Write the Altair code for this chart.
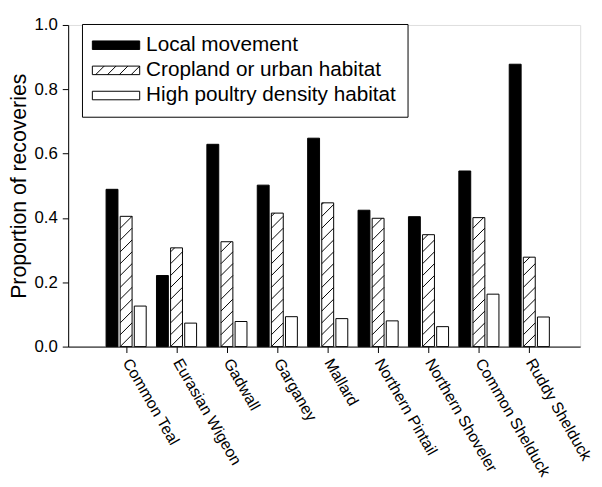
import json
import altair as alt
import pandas as pd

# ---- data ----
species = ["Common Teal", "Eurasian Wigeon", "Gadwall", "Garganey", "Mallard",
           "Northern Pintail", "Northern Shoveler", "Common Shelduck", "Ruddy Shelduck"]
series = ["Local movement", "Cropland or urban habitat", "High poultry density habitat"]
local_movement = [0.489, 0.221, 0.629, 0.502, 0.648, 0.424, 0.404, 0.546, 0.878]
cropland_urban = [0.405, 0.307, 0.326, 0.415, 0.447, 0.399, 0.348, 0.401, 0.278]
high_poultry = [0.126, 0.073, 0.078, 0.093, 0.087, 0.080, 0.062, 0.163, 0.092]
y_ticks = [0.0, 0.2, 0.4, 0.6, 0.8, 1.0]

# ---- layout / style ----
FONT = "Liberation Sans"
W, H = 519, 326
X_DOMAIN = [-1.15, 9.01]
BAR_OFFSET = 0.28      # group offset of each series (in category units)
BAR_HALF = 0.118       # half bar width (in category units)
HATCH_STEP = 12        # px between hatch lines

values_by_series = [local_movement, cropland_urban, high_poultry]
rows = []
for si, (s, vals) in enumerate(zip(series, values_by_series)):
    for i, v in enumerate(vals):
        xc = i + (si - 1) * BAR_OFFSET
        rows.append({"species": species[i], "series": s, "idx": i, "xc": xc,
                     "x0": xc - BAR_HALF, "x1": xc + BAR_HALF, "value": v})
bars_df = pd.DataFrame(rows)

# hatch lines for the cropland/urban bars, derived from the bar values
px_x = W / (X_DOMAIN[1] - X_DOMAIN[0])
px_y = H / 1.0
hatch = []
for r in rows:
    if r["series"] != series[1]:
        continue
    w = (r["x1"] - r["x0"]) * px_x
    h = r["value"] * px_y
    k = -int(w // HATCH_STEP) - 1
    while k * HATCH_STEP < h:
        c = k * HATCH_STEP
        xa = max(0.0, -c)
        xb = min(w, h - c)
        if xb - xa > 0.6:
            hatch.append({"hx": r["x0"] + xa / px_x, "hx2": r["x0"] + xb / px_x,
                          "hy": (c + xa) / px_y, "hy2": (c + xb) / px_y})
        k += 1
hatch_df = pd.DataFrame(hatch)

label_expr = json.dumps(species) + "[datum.value]"

x_scale = alt.Scale(domain=X_DOMAIN, nice=False, zero=False)
y_scale = alt.Scale(domain=[0, 1], nice=False)

x_axis = alt.Axis(values=list(range(len(species))), labelExpr=label_expr, title=None,
                  labelAngle=60, labelAlign="left", labelBaseline="middle",
                  labelFlush=False, labelOverlap=False, labelBound=False,
                  grid=False, tickSize=6, labelPadding=7, labelFontSize=16,
                  labelFont=FONT, labelColor="black", domainColor="black",
                  tickColor="black", domainWidth=1, tickWidth=1)
y_axis = alt.Axis(values=y_ticks, format=".1f", title="Proportion of recoveries",
                  titleFontSize=21.5, titleFontWeight="normal", titleFont=FONT,
                  titleColor="black", titlePadding=4, labelFontSize=17, labelFont=FONT,
                  labelColor="black", labelFlush=False, grid=False, tickSize=6,
                  labelPadding=5, domainColor="black", tickColor="black",
                  domainWidth=1, tickWidth=1)

bars = alt.Chart(bars_df).mark_bar(stroke="black", strokeWidth=1).encode(
    x=alt.X("x0:Q", scale=x_scale, axis=x_axis),
    x2="x1:Q",
    y=alt.Y("value:Q", scale=y_scale, axis=y_axis),
    y2=alt.datum(0),
    fill=alt.condition(f"datum.series === '{series[0]}'", alt.value("black"), alt.value("white")),
)

hatch_layer = alt.Chart(hatch_df).mark_rule(color="black", strokeWidth=1).encode(
    x=alt.X("hx:Q", scale=x_scale),
    x2="hx2:Q",
    y=alt.Y("hy:Q", scale=y_scale),
    y2="hy2:Q",
)

# legend symbols: 48 x 8.6 px boxes drawn from a path scaled by sqrt(size)/2 = 6
RECT = "M-4,-0.72H4V0.72H-4Z"
HATCH = ("M-4,-0.72H4V0.72H-4Z"
         "M-3.44,0.72L-2,-0.72M-1.44,0.72L0,-0.72M0.56,0.72L2,-0.72M2.56,0.72L4,-0.72")

legend = alt.Legend(title=None, orient="none", legendX=14, legendY=-1, direction="vertical",
                    strokeColor="black", fillColor="white", padding=11, cornerRadius=0,
                    labelFont=FONT, labelFontSize=21, labelColor="black", labelLimit=500,
                    symbolSize=144, symbolOffset=13, labelOffset=20,
                    symbolStrokeColor="black", symbolStrokeWidth=1,
                    symbolOpacity=1, rowPadding=3.5)

legend_layer = alt.Chart(bars_df).transform_filter("false").mark_point(
    filled=True, strokeWidth=1, size=144).encode(
    x=alt.X("xc:Q", scale=x_scale),
    y=alt.Y("value:Q", scale=y_scale),
    fill=alt.Fill("series:N", scale=alt.Scale(domain=series, range=["black", "white", "white"]),
                  legend=legend),
    stroke=alt.Stroke("series:N", scale=alt.Scale(domain=series, range=["black", "black", "black"]),
                      legend=legend),
    shape=alt.Shape("series:N", scale=alt.Scale(domain=series, range=[RECT, HATCH, RECT]),
                    legend=legend),
)

chart = alt.layer(bars, hatch_layer, legend_layer).properties(
    width=W, height=H,
    autosize=alt.AutoSizeParams(type="none"),
    padding={"left": 61, "top": 14, "right": 14, "bottom": 131},
).configure_view(stroke=None).configure(font=FONT)

chart.save("out.html", embed_options={"renderer": "svg", "actions": False})
